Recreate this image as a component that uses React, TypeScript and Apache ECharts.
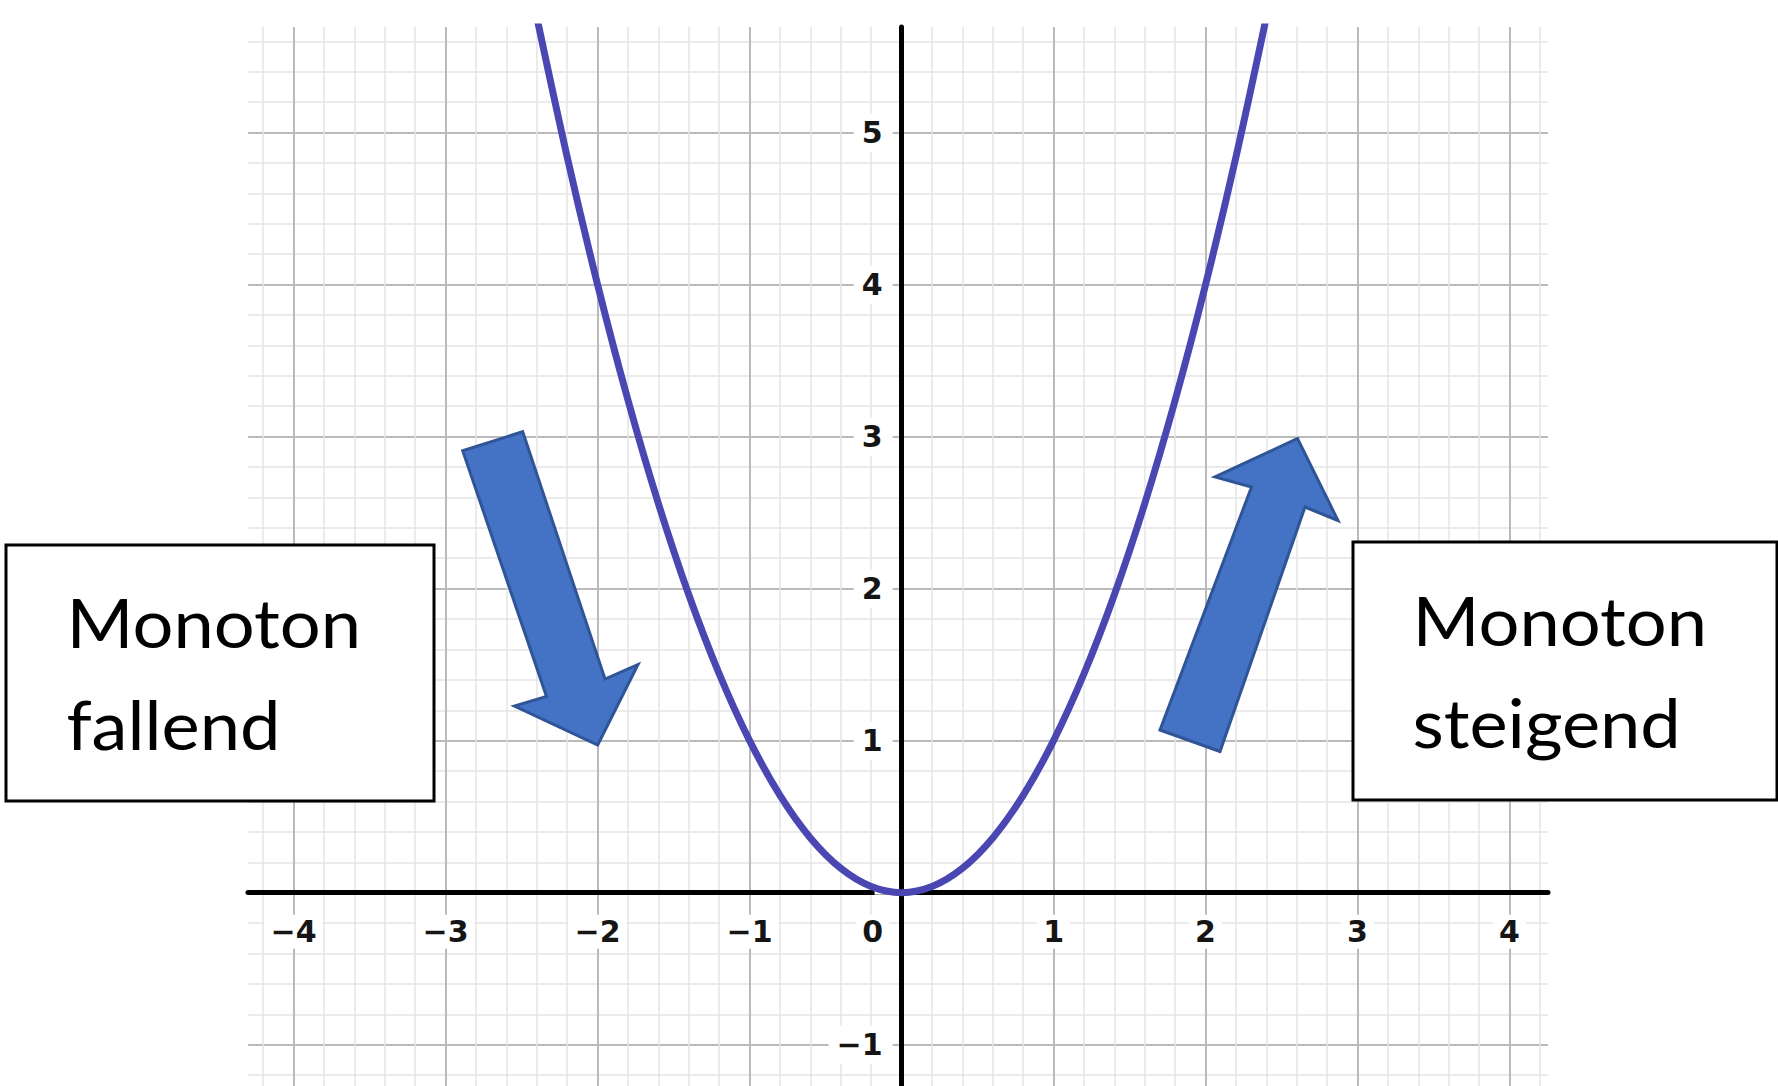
import React, { useEffect, useRef } from 'react';
import * as echarts from 'echarts';

// Function graph data (the parabola through (0,0), (±1,1), (±2,4))
const curveX = [-2.4, -2.2, -2.0, -1.8, -1.6, -1.4, -1.2, -1.0, -0.8, -0.6, -0.4, -0.2, 0, 0.2, 0.4, 0.6, 0.8, 1.0, 1.2, 1.4, 1.6, 1.8, 2.0, 2.2, 2.4];
const curveY = [5.76, 4.84, 4.0, 3.24, 2.56, 1.96, 1.44, 1.0, 0.64, 0.36, 0.16, 0.04, 0, 0.04, 0.16, 0.36, 0.64, 1.0, 1.44, 1.96, 2.56, 3.24, 4.0, 4.84, 5.76];

// Tick labels
const xTicks = [-4, -3, -2, -1, 0, 1, 2, 3, 4];
const xTickLabels = ['\u22124', '\u22123', '\u22122', '\u22121', '0', '1', '2', '3', '4'];
const yTicks = [-1, 1, 2, 3, 4, 5];
const yTickLabels = ['\u22121', '1', '2', '3', '4', '5'];

// Visible window of the coordinate plane
const xRange = [-4.3, 4.253];
const yRange = [-1.272, 5.695];

// Annotation texts
const leftText = ['Monoton', 'fallend'];
const rightText = ['Monoton', 'steigend'];

const findLabel = (ticks: number[], labels: string[], v: number) => {
  for (let i = 0; i < ticks.length; i++) {
    if (Math.abs(ticks[i] - v) < 1e-6) return labels[i];
  }
  return null;
};

const CHART_W = 1778;
const CHART_H = 1086;
const GRID = { left: 248, right: 230, top: 27, bottom: 0 };

export default function App() {
  const ref = useRef<HTMLDivElement>(null);
  useEffect(() => {
    if (!ref.current) return;
    const chart = echarts.init(ref.current, undefined, { renderer: 'svg' });
    const labelFont = '"DejaVu Sans", Roboto, sans-serif';
    const boxFont = 'Lato, "Open Sans", sans-serif';
    const boxFontSize = 67;
    const boxScaleX = 1.078;

    // place the labelled axes through the origin (offset from the grid edge)
    const gridW = CHART_W - GRID.left - GRID.right;
    const gridH = CHART_H - GRID.top - GRID.bottom;
    const yAxisOffset = -((0 - xRange[0]) / (xRange[1] - xRange[0])) * gridW;
    const xAxisOffset = -((0 - yRange[0]) / (yRange[1] - yRange[0])) * gridH;

    const gridAxisCommon = {
      type: 'value' as const,
      axisLine: { show: false },
      axisTick: { show: false },
      axisLabel: { show: false },
      minInterval: 1,
      maxInterval: 1,
      splitLine: { show: true, showMinLine: false, showMaxLine: false, lineStyle: { color: '#bababa', width: 2 } },
      minorTick: { show: false, splitNumber: 5 },
      minorSplitLine: { show: true, lineStyle: { color: '#e4e4e4', width: 1.5 } },
      z: 0,
    };

    const labelStyle = {
      fontFamily: labelFont,
      fontWeight: 'bold',
      fontSize: 30,
      lineHeight: 34,
      color: '#151515',
    };

    const boxText = (text: string, x: number, y: number) => ({
      type: 'text',
      z: 101,
      x,
      y,
      scaleX: boxScaleX,
      style: { text, font: `${boxFontSize}px ${boxFont}`, fill: '#000000', verticalAlign: 'middle', align: 'left' },
    });

    const option: any = {
      animation: false,
      backgroundColor: '#ffffff',
      grid: { ...GRID, containLabel: false, outerBoundsMode: 'none' },
      xAxis: [
        { ...gridAxisCommon, position: 'bottom', min: xRange[0], max: xRange[1] },
        {
          type: 'value',
          position: 'bottom',
          offset: xAxisOffset,
          min: xRange[0],
          max: xRange[1],
          minInterval: 1,
          maxInterval: 1,
          z: 1,
          splitLine: { show: false },
          axisTick: { show: false },
          axisLine: { show: true, onZero: false, lineStyle: { color: '#000000', width: 5 } },
          axisLabel: {
            show: true,
            margin: 22,
            showMinLabel: false,
            showMaxLabel: false,
            ...labelStyle,
            formatter: (v: number) => {
              const l = findLabel(xTicks, xTickLabels, v);
              if (l === null) return '';
              if (Math.abs(v) < 1e-9) return `{a|${l}}{s|}`;
              return `{a|${l}}`;
            },
            rich: {
              a: { ...labelStyle, backgroundColor: '#ffffff', padding: [2, 6, 2, 6] },
              s: { width: 58, height: 10 },
            },
          },
        },
      ],
      yAxis: [
        { ...gridAxisCommon, position: 'left', min: yRange[0], max: yRange[1] },
        {
          type: 'value',
          position: 'left',
          offset: yAxisOffset,
          min: yRange[0],
          max: yRange[1],
          minInterval: 1,
          maxInterval: 1,
          z: 1,
          splitLine: { show: false },
          axisTick: { show: false },
          axisLine: { show: true, onZero: false, lineStyle: { color: '#000000', width: 5 } },
          axisLabel: {
            show: true,
            margin: 9,
            showMinLabel: false,
            showMaxLabel: false,
            ...labelStyle,
            backgroundColor: '#ffffff',
            padding: [2, 10, 2, 8],
            formatter: (v: number) => {
              const l = findLabel(yTicks, yTickLabels, v);
              return l === null ? '' : l;
            },
          },
        },
      ],
      series: [
        {
          type: 'line',
          xAxisIndex: 0,
          yAxisIndex: 0,
          data: curveX.map((x, i) => [x, curveY[i]]),
          smooth: 0.33,
          showSymbol: false,
          symbol: 'none',
          clip: true,
          z: 5,
          lineStyle: { color: '#4a46b2', width: 7 },
        },
      ],
      graphic: [
        {
          type: 'polygon',
          z: 100,
          shape: {
            points: [
              [462.7, 450.7], [522.7, 431.7], [605, 679], [638, 664.5], [597.7, 745], [514.5, 706], [546.5, 696.5],
            ],
          },
          style: { fill: '#4472c4', stroke: '#2f5597', lineWidth: 3 },
        },
        {
          type: 'polygon',
          z: 100,
          shape: {
            points: [
              [1160, 730], [1251.5, 487], [1215, 477], [1297.5, 438.5], [1338, 520.5], [1305, 507], [1220, 751.5],
            ],
          },
          style: { fill: '#4472c4', stroke: '#2f5597', lineWidth: 3 },
        },
        {
          type: 'rect',
          z: 100,
          shape: { x: 6, y: 545, width: 428, height: 256 },
          style: { fill: '#ffffff', stroke: '#000000', lineWidth: 3 },
        },
        {
          type: 'rect',
          z: 100,
          shape: { x: 1353, y: 542, width: 424, height: 258 },
          style: { fill: '#ffffff', stroke: '#000000', lineWidth: 3 },
        },
        boxText(leftText[0], 66.5, 622),
        boxText(leftText[1], 66.5, 724),
        boxText(rightText[0], 1412.5, 620.5),
        boxText(rightText[1], 1412.5, 722),
      ],
    };
    chart.setOption(option);
    return () => chart.dispose();
  }, []);
  return (
    <div
      ref={ref}
      style={{ position: 'absolute', left: 0, top: 0, width: `${CHART_W}px`, height: `${CHART_H}px`, background: '#fff' }}
    />
  );
}
